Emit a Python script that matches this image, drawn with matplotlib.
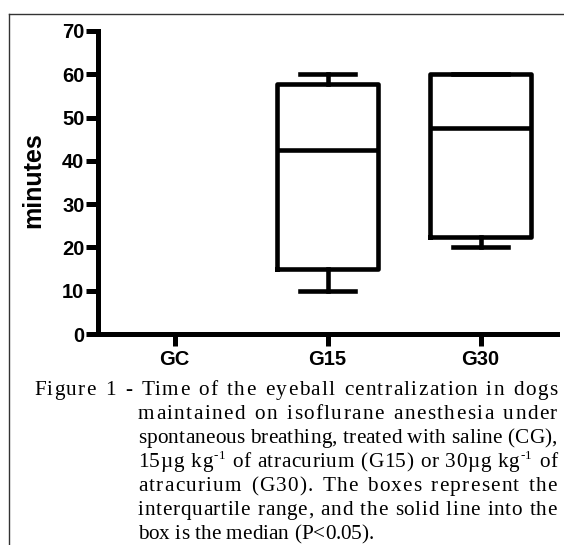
import matplotlib
matplotlib.use("Agg")
import matplotlib.pyplot as plt
from matplotlib.lines import Line2D

# ---- data ----
categories = ["GC", "G15", "G30"]
box_positions = [1, 2]          # GC has no box
q1 = [15, 22.5]
median = [42.5, 47.5]
q3 = [57.75, 60]
whisker_low = [10, 20]
whisker_high = [60, 60]
y_ticks = [0, 10, 20, 30, 40, 50, 60, 70]
y_label = "minutes"

caption_lines = [
    [["Figure"], ["1"], ["-"], ["Time"], ["of"], ["the"], ["eyeball"], ["centralization"], ["in"], ["dogs"]],
    [["maintained"], ["on"], ["isoflurane"], ["anesthesia"], ["under"]],
    [["spontaneous"], ["breathing,"], ["treated"], ["with"], ["saline"], ["(CG),"]],
    [["15\u00b5g"], ["kg", "^-1"], ["of"], ["atracurium"], ["(G15)"], ["or"], ["30\u00b5g"], ["kg", "^-1"], ["of"]],
    [["atracurium"], ["(G30)."], ["The"], ["boxes"], ["represent"], ["the"]],
    [["interquartile"], ["range,"], ["and"], ["the"], ["solid"], ["line"], ["into"], ["the"]],
    [["box"], ["is"], ["the"], ["median"], ["(P<0.05)."]],
]

W, H = 564, 545
DPI = 100
fig = plt.figure(figsize=(W / DPI, H / DPI), dpi=DPI)
fig.patch.set_facecolor("white")

SANS = "Liberation Sans"
SERIF = "Liberation Serif"

ax = fig.add_axes([98 / W, 1 - 334 / H, (557 - 98) / W, (334 - 31) / H])
stats = []
for i in range(len(box_positions)):
    stats.append(dict(med=median[i], q1=q1[i], q3=q3[i],
                      whislo=whisker_low[i], whishi=whisker_high[i], fliers=[]))
lw = 3.3
ax.bxp(stats, positions=box_positions, widths=0.66, capwidths=0.36,
       showfliers=False, manage_ticks=False,
       boxprops=dict(color="black", linewidth=lw),
       medianprops=dict(color="black", linewidth=lw, solid_capstyle="butt"),
       whiskerprops=dict(color="black", linewidth=lw),
       capprops=dict(color="black", linewidth=lw))

ax.set_xlim(-0.5, 2.5)
ax.set_ylim(0, 70)
ax.set_xticks(range(len(categories)))
ax.set_xticklabels(categories, fontsize=14.5, fontweight="bold", family=SANS)
ax.set_yticks(y_ticks)
ax.set_yticklabels([str(v) for v in y_ticks], fontsize=14.5, fontweight="bold", family=SANS)
for s in ["top", "right"]:
    ax.spines[s].set_visible(False)
for s in ["left", "bottom"]:
    ax.spines[s].set_linewidth(3.6)
    ax.spines[s].set_capstyle("projecting")
ax.tick_params(axis="both", length=8.3, width=3.6, color="black")
ax.tick_params(axis="x", pad=3)
ax.tick_params(axis="y", pad=1.5)
ax.set_facecolor("none")

fig.text(33 / W, 1 - 180 / H, y_label, rotation=90, fontsize=18, fontweight="bold",
         family=SANS, ha="center", va="center")

# border of the figure panel
fig.add_artist(Line2D([8.5 / W, 8.5 / W], [0, 1 - 13.5 / H], transform=fig.transFigure,
                      color="#333333", lw=1.0))
fig.add_artist(Line2D([8.5 / W, 1], [1 - 13.5 / H, 1 - 13.5 / H], transform=fig.transFigure,
                      color="#333333", lw=1.0))

# ---- caption, justified with letter spacing ----
renderer = fig.canvas.get_renderer()
_cache = {}


def measure(s, fs):
    key = (s, round(fs, 4))
    if key not in _cache:
        t = fig.text(0, 0, s, fontsize=fs, family=SERIF)
        _cache[key] = t.get_window_extent(renderer).width
        t.remove()
    return _cache[key]


def glyphs(pieces, fs, sup_fs):
    """(char, fontsize, raised, offset of ink-left from word ink-left) and word width"""
    out = []
    x = 0.0
    prev_full = ""
    for p in pieces:
        raised = p.startswith("^")
        s = p[1:] if raised else p
        f = sup_fs if raised else fs
        if raised:
            gap = measure("g", fs) * 0.1
            base = x + gap
            for j, ch in enumerate(s):
                off = measure(s[:j + 1], f) - measure(ch, f) if j > 0 else 0.0
                out.append((ch, f, True, base + off))
            x = base + measure(s, f)
        else:
            for j, ch in enumerate(s):
                off = measure(s[:j + 1], f) - measure(ch, f) if j > 0 else 0.0
                out.append((ch, f, False, x + off))
            x = x + measure(s, f)
    return out, x


left_first, left_rest, right = 34, 138, 557


def space_width(fs):
    return measure("n n", fs) - 2 * measure("n", fs)


def natural_width(words, fs):
    return sum(glyphs(w, fs, fs * 0.62)[1] for w in words) + space_width(fs) * (len(words) - 1)


FS0 = 14.0
target = (right - left_rest) * 0.985
FS = round(FS0 * target / natural_width(caption_lines[2], FS0), 2)
SUP_FS = FS * 0.62
EM = FS * DPI / 72

base0, spacing = 395, 24.0
space_w = space_width(FS)
K = 3.0  # weight of a word gap relative to a letter gap
for li, words in enumerate(caption_lines):
    y = base0 + li * spacing
    left = left_first if li == 0 else left_rest
    gl = [glyphs(w, FS, SUP_FS) for w in words]
    nat = sum(g[1] for g in gl) + space_w * (len(words) - 1)
    n_char_gaps = sum(len(g[0]) - 1 for g in gl)
    n_word_gaps = len(words) - 1
    if li < len(caption_lines) - 1:
        extra = (right - left) - nat
        u = extra / (n_char_gaps + K * n_word_gaps)
    else:
        u = 0.0
    x = left
    for g, wnat in gl:
        for k, (s, fs, raised, off) in enumerate(g):
            xx = x + off + k * u
            yy = H - y + (EM * 0.38 if raised else 0)
            fig.text(xx / W, yy / H, s, fontsize=fs, family=SERIF,
                     va="baseline", ha="left")
        x += wnat + (len(g) - 1) * u + space_w + K * u

fig.savefig("out.png", dpi=DPI)
